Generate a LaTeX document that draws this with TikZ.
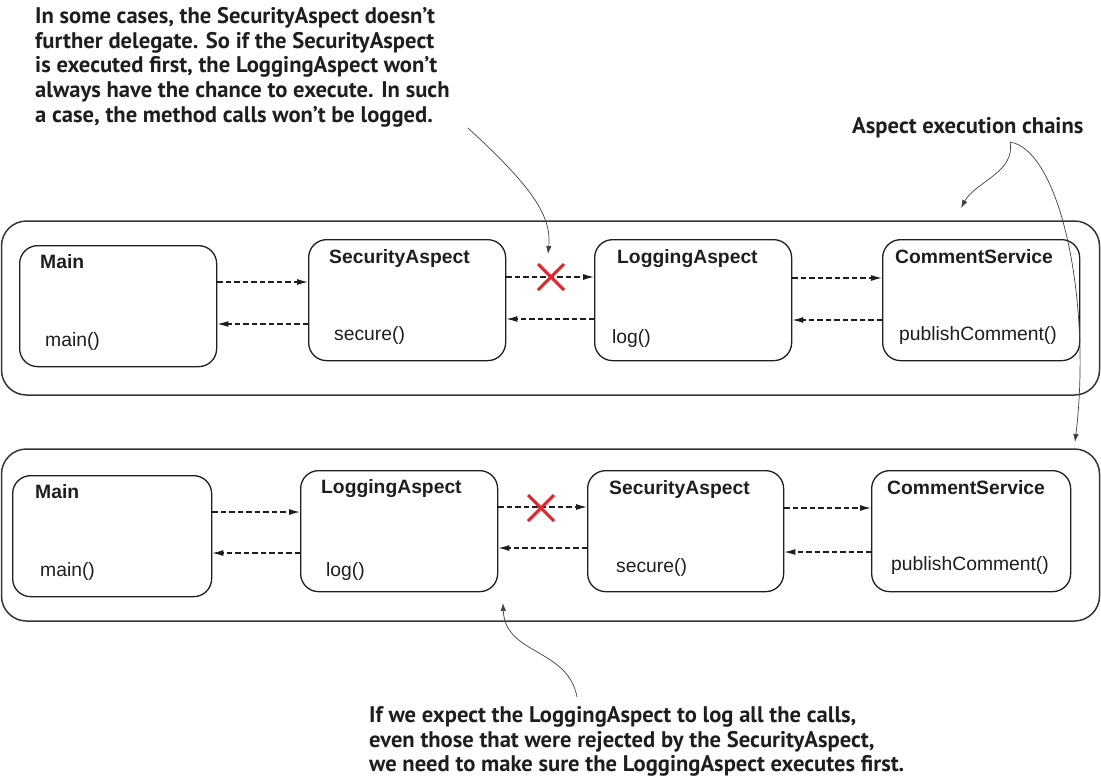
\documentclass[tikz,border=0pt]{standalone}
\usepackage{fontspec}
\setmainfont{Liberation Sans}
\newfontfamily\annotfont{PT Sans}
\usetikzlibrary{arrows.meta,calc}
\definecolor{xred}{HTML}{E8222A}
\definecolor{ink}{HTML}{1E1E1E}
\tikzset{
  outerbox/.style={draw=ink!90,line width=1.5pt,rounded corners=25pt},
  compbox/.style={draw=ink,line width=1.3pt,rounded corners=18pt,anchor=north west,minimum width=197pt,minimum height=121pt,inner sep=0pt},
  ttl/.style={anchor=base west,font=\fontsize{19.3}{21}\selectfont\bfseries,text=ink,inner sep=0pt},
  mth/.style={anchor=base west,font=\fontsize{19.3}{21}\selectfont,text=ink,inner sep=0pt},
  call/.style={draw=ink,line width=1.2pt,dash pattern=on 5.5pt off 3pt,-{Latex[length=11pt,width=6pt]}},
  note/.style={anchor=north west,align=left,font=\annotfont\fontsize{22.6}{24.8}\selectfont\bfseries,text=ink,inner sep=0pt},
  pointer/.style={draw=ink!85,line width=0.7pt,-{Latex[length=8pt,width=5.5pt]}},
  cross/.style={draw=xred,line width=3pt}
}
\begin{document}
\begin{tikzpicture}[x=1pt,y=-1pt]
\useasboundingbox (0,0) rectangle (1101,780);
% outer boxes
\draw[outerbox] (1.5,221) rectangle (1099.5,395);
\draw[outerbox] (1.5,449) rectangle (1099.5,621);
% top row
\node[compbox] (m1) at (19,245) {};
\node[compbox] (s1) at (308,239) {};
\node[compbox] (l1) at (594,239) {};
\node[compbox] (c1) at (882,239) {};
\node[ttl] (m1t) at (40,268) {Main};
\node[mth] (m1m) at (45,346) {main()};
\node[ttl] (s1t) at (329,263) {SecurityAspect};
\node[mth] (s1m) at (334,340) {secure()};
\node[ttl] (l1t) at (617,263) {LoggingAspect};
\node[mth] (l1m) at (612,343) {log()};
\node[ttl] (c1t) at (895,263) {CommentService};
\node[mth] (c1m) at (899,340) {publishComment()};
\draw[call] (m1.east |- 0,282) -- (s1.west |- 0,282);
\draw[call] (s1.west |- 0,324) -- (m1.east |- 0,324);
\draw[call] (s1.east |- 0,277) -- (l1.west |- 0,277);
\draw[call] (l1.west |- 0,319) -- (s1.east |- 0,319);
\draw[call] (l1.east |- 0,278) -- (c1.west |- 0,278);
\draw[call] (c1.west |- 0,320) -- (l1.east |- 0,320);
\coordinate (x1) at (551,277);
\draw[cross] ($(x1)+(-13,-13)$) -- ($(x1)+(13,13)$);
\draw[cross] ($(x1)+(-13,13)$) -- ($(x1)+(13,-13)$);
% bottom row
\node[compbox,minimum width=199pt] (m2) at (12,475) {};
\node[compbox] (l2) at (300,470) {};
\node[compbox,minimum width=196pt] (s2) at (587,470) {};
\node[compbox,minimum width=199pt] (c2) at (871,470) {};
\node[ttl] (m2t) at (35,498) {Main};
\node[mth] (m2m) at (40,576) {main()};
\node[ttl] (l2t) at (321,493) {LoggingAspect};
\node[mth] (l2m) at (326,576) {log()};
\node[ttl] (s2t) at (609,494) {SecurityAspect};
\node[mth] (s2m) at (616,572) {secure()};
\node[ttl] (c2t) at (887,494) {CommentService};
\node[mth] (c2m) at (891,570) {publishComment()};
\draw[call] (m2.east |- 0,512) -- (l2.west |- 0,512);
\draw[call] (l2.west |- 0,553) -- (m2.east |- 0,553);
\draw[call] (l2.east |- 0,507) -- (s2.west |- 0,507);
\draw[call] (s2.west |- 0,548) -- (l2.east |- 0,548);
\draw[call] (s2.east |- 0,508) -- (c2.west |- 0,508);
\draw[call] (c2.west |- 0,552) -- (s2.east |- 0,552);
\coordinate (x2) at (541,508);
\draw[cross] ($(x2)+(-13,-13)$) -- ($(x2)+(13,13)$);
\draw[cross] ($(x2)+(-13,13)$) -- ($(x2)+(13,-13)$);
% annotations
\node[note] (n1) at (35,7) {In some cases, the SecurityAspect doesn’t\\further delegate. So if the SecurityAspect\\is executed first, the LoggingAspect won’t\\always have the chance to execute. In such\\a case, the method calls won’t be logged.};
\node[note,anchor=base west] (n2) at (852,133) {Aspect execution chains};
\node[note] (n3) at (369,706) {If we expect the LoggingAspect to log all the calls,\\even those that were rejected by the SecurityAspect,\\we need to make sure the LoggingAspect executes first.};
\coordinate (p1s) at (468,128);
\coordinate (p1e) at (548,254);
\draw[pointer] (p1s) .. controls (530,185) and (552,215) .. (p1e);
\coordinate (p2s) at (1010,142);
\coordinate (p2e) at (961,208);
\coordinate (p3e) at (1075,442);
\draw[pointer] (p2s) .. controls (1016,172) and (975,182) .. (p2e);
\draw[pointer] (p2s) .. controls (1060,150) and (1092,300) .. (p3e);
\coordinate (p4s) at (577,697);
\coordinate (p4e) at (503,603);
\draw[pointer] (p4s) .. controls (568,648) and (505,655) .. (p4e);
\end{tikzpicture}
\end{document}
